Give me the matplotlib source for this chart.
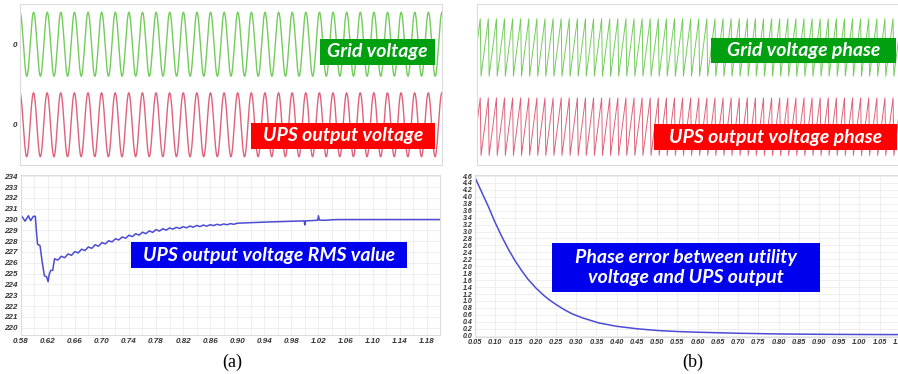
import matplotlib
matplotlib.use('Agg')
import matplotlib.pyplot as plt
import matplotlib.patches as patches
import numpy as np

W, H = 898, 374
tick_font = {'family': 'Liberation Sans', 'weight': 'bold', 'style': 'italic', 'size': 5.8}
box_font = {'family': 'Lato', 'weight': 'bold', 'style': 'italic', 'color': 'white'}

# grid / UPS waveform settings
f_grid = 50.0
wave_amp = 1.0
wave_offset = 1.26

# (a) RMS value of UPS output voltage
rms_t = [0.580, 0.5865, 0.5913, 0.5948, 0.5987, 0.6016, 0.6036, 0.6050, 0.6085, 0.6120,
         0.6150, 0.6183, 0.6205, 0.6220, 0.6243, 0.6273,
         0.630, 0.635, 0.640, 0.645, 0.650, 0.655, 0.660, 0.665, 0.670, 0.675,
         0.680, 0.685, 0.690, 0.695, 0.700, 0.705, 0.710, 0.715, 0.720, 0.725,
         0.730, 0.735, 0.740, 0.745, 0.750, 0.755, 0.760, 0.765, 0.770, 0.775,
         0.780, 0.785, 0.790, 0.795, 0.800, 0.805, 0.810, 0.815, 0.820, 0.825,
         0.830, 0.835, 0.840, 0.845, 0.850, 0.855, 0.860, 0.865, 0.870, 0.875,
         0.880, 0.885, 0.890, 0.895, 0.900,
         0.920, 0.940, 0.960, 0.980, 0.999, 1.000, 1.001, 1.005, 1.010, 1.015,
         1.019, 1.020, 1.0215, 1.030, 1.040, 1.050, 1.200]
rms_v = [230.45, 229.85, 230.35, 229.90, 230.30, 230.30, 228.60, 227.70, 227.60, 225.97,
         224.80, 224.70, 224.25, 224.90, 225.30, 225.30,
         226.37, 226.25, 226.60, 226.47, 226.82, 226.69, 227.04, 226.91, 227.26, 227.13,
         227.47, 227.33, 227.67, 227.53, 227.87, 227.75, 228.04, 227.93, 228.22, 228.11,
         228.39, 228.27, 228.55, 228.42, 228.69, 228.56, 228.83, 228.69, 228.95, 228.81,
         229.07, 228.93, 229.15, 229.02, 229.22, 229.11, 229.28, 229.17, 229.34, 229.23,
         229.40, 229.29, 229.45, 229.35, 229.49, 229.39, 229.52, 229.44, 229.56, 229.48,
         229.59, 229.52, 229.62, 229.56, 229.66,
         229.71, 229.76, 229.80, 229.84, 229.87, 229.50, 229.88, 229.89, 229.90, 229.92,
         229.94, 230.35, 229.95, 229.93, 229.98, 230.00, 230.00]

# (b) phase error between utility voltage and UPS output
err_t = [0.05, 0.064, 0.083, 0.099, 0.116, 0.132, 0.149, 0.165, 0.18, 0.20, 0.22,
         0.235, 0.25, 0.272, 0.29, 0.314, 0.355, 0.40, 0.45, 0.50, 0.55, 0.60,
         0.70, 0.80, 0.90, 1.00, 1.15]
err_v = [4.56, 4.20, 3.72, 3.28, 2.86, 2.50, 2.16, 1.88, 1.64, 1.38, 1.16,
         1.02, 0.90, 0.74, 0.63, 0.52, 0.37, 0.27, 0.20, 0.15, 0.12, 0.10,
         0.07, 0.05, 0.04, 0.035, 0.03]

rms_xticks = [0.58, 0.62, 0.66, 0.70, 0.74, 0.78, 0.82, 0.86, 0.90, 0.94, 0.98, 1.02, 1.06, 1.10, 1.14, 1.18]
rms_yticks = list(range(220, 235))
err_xticks = [0.05, 0.10, 0.15, 0.20, 0.25, 0.30, 0.35, 0.40, 0.45, 0.50, 0.55,
              0.60, 0.65, 0.70, 0.75, 0.80, 0.85, 0.90, 0.95, 1.00, 1.05, 1.10]
err_yticks = [0.0, 0.2, 0.4, 0.6, 0.8, 1.0, 1.2, 1.4, 1.6, 1.8, 2.0, 2.2, 2.4,
              2.6, 2.8, 3.0, 3.2, 3.4, 3.6, 3.8, 4.0, 4.2, 4.4, 4.6]

green_line = '#74cc5c'
red_line = '#e0627a'
blue_line = '#4b4bd6'
grid_col = '#ececec'
spine_col = '#dcdcdc'

fig = plt.figure(figsize=(W / 100, H / 100), dpi=100)


def px_axes(x0, y0, x1, y1):
    return fig.add_axes([x0 / W, 1 - y1 / H, (x1 - x0) / W, (y1 - y0) / H])


def style(ax):
    for s in ax.spines.values():
        s.set_color(spine_col)
        s.set_linewidth(0.8)
    ax.tick_params(length=0, pad=2, colors='#333333')
    for lab in ax.get_xticklabels() + ax.get_yticklabels():
        lab.set_fontproperties(matplotlib.font_manager.FontProperties(**tick_font))


def label_box(x0, y0, x1, y1, text, color, size):
    fig.patches.append(patches.Rectangle((x0 / W, 1 - y1 / H), (x1 - x0) / W, (y1 - y0) / H,
                                         transform=fig.transFigure, facecolor=color,
                                         edgecolor='none', zorder=5))
    fig.text((x0 + x1) / 2 / W, 1 - (y0 + y1) / 2 / H, text, ha='center', va='center',
             fontsize=size, zorder=6, linespacing=1.15, **box_font)


# ---- (a) top: grid voltage and UPS output voltage
ax1 = px_axes(20, 4, 442, 165)
t1 = np.arange(0.58, 1.2, 0.0002)
ax1.plot(t1, wave_offset + wave_amp * np.cos(2 * np.pi * f_grid * t1), color=green_line, lw=1.0)
ax1.plot(t1, -wave_offset + wave_amp * np.cos(2 * np.pi * f_grid * t1 + 0.05), color=red_line, lw=1.0)
ax1.set_xlim(0.58, 1.2)
ax1.set_ylim(-2.52, 2.52)
ax1.set_xticks([])
ax1.set_yticks([wave_offset, -wave_offset])
ax1.set_yticklabels(['0', '0'])
style(ax1)

# ---- (b) top: phases
ax2 = px_axes(477, 4, 920, 165)
t2 = np.arange(0.05, 1.15, 0.002)
ph = (f_grid * t2) % 1.0
ax2.plot(t2, wave_offset + wave_amp * (2 * ph - 1), color=green_line, lw=0.7)
ph2 = (f_grid * t2 + 0.02) % 1.0
ax2.plot(t2, -wave_offset + wave_amp * (2 * ph2 - 1), color=red_line, lw=0.7)
ax2.set_xlim(0.05, 1.1446)
ax2.set_ylim(-2.52, 2.52)
ax2.set_xticks([])
ax2.set_yticks([])
style(ax2)

# ---- (a) bottom: RMS value
ax3 = px_axes(20.7, 175, 440.2, 335)
ax3.plot(rms_t, rms_v, color=blue_line, lw=1.1)
ax3.set_xlim(0.58, 1.2)
ax3.set_ylim(219.32, 234.12)
ax3.set_xticks(rms_xticks)
ax3.set_xticklabels(['%.2f' % v for v in rms_xticks])
ax3.set_xticks(np.array(rms_xticks) + 0.02, minor=True)
ax3.set_yticks(rms_yticks)
ax3.set_yticklabels([str(v) for v in rms_yticks])
ax3.grid(True, which='both', color=grid_col, lw=0.6)
ax3.tick_params(which='minor', length=0)
ax3.set_axisbelow(True)
style(ax3)

# ---- (b) bottom: phase error
ax4 = px_axes(475, 175, 920, 336.7)
ax4.plot(err_t, err_v, color=blue_line, lw=1.1)
ax4.set_xlim(0.05, 1.1496)
ax4.set_ylim(-0.029, 4.629)
ax4.set_xticks(err_xticks)
ax4.set_xticklabels(['%.2f' % v for v in err_xticks])
ax4.set_yticks(err_yticks)
ax4.set_yticklabels(['%.1f' % v for v in err_yticks])
ax4.grid(True, color=grid_col, lw=0.6)
ax4.set_axisbelow(True)
style(ax4)
for lab in ax4.get_yticklabels():
    lab.set_fontsize(5.0)
for lab in ax4.get_xticklabels():
    lab.set_fontsize(5.3)

# ---- coloured labels
label_box(320, 39, 435, 65, 'Grid voltage', '#00a010', 14)
label_box(251, 123, 435, 149, 'UPS output voltage', '#ff0000', 14)
label_box(711, 38, 896, 63, 'Grid voltage phase', '#00a010', 14)
label_box(654, 124, 897, 150, 'UPS output voltage phase', '#ff0000', 14)
label_box(131, 242, 407, 268, 'UPS output voltage RMS value', '#0000ee', 14)
label_box(552, 243, 820, 292, 'Phase error between utility\nvoltage and UPS output', '#0000ee', 14)

# ---- captions
fig.text(232 / W, 1 - 362 / H, '(a)', ha='center', va='center', fontsize=13, family='Liberation Serif')
fig.text(693 / W, 1 - 362 / H, '(b)', ha='center', va='center', fontsize=13, family='Liberation Serif')

fig.savefig('out.png', dpi=100)
